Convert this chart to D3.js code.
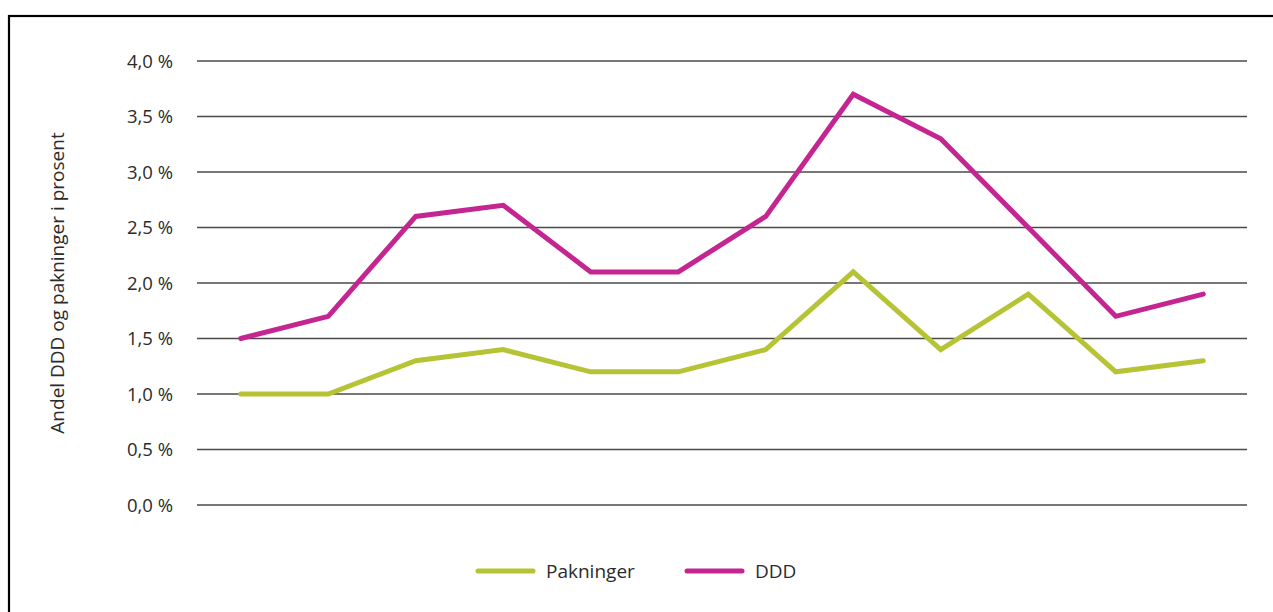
<!DOCTYPE html>
<html>
<head>
<meta charset="utf-8">
<script src="https://cdn.jsdelivr.net/npm/d3@7"></script>
<style>
  body { margin: 0; background: #fff; }
  svg text { font-family: "Open Sans", "Noto Sans", sans-serif; fill: #2b2b2b; }
</style>
</head>
<body>
<div id="chart"></div>
<script>
var categories = ["1", "2", "3", "4", "5", "6", "7", "8", "9", "10", "11", "12"];
var pakninger = [1.0, 1.0, 1.3, 1.4, 1.2, 1.2, 1.4, 2.1, 1.4, 1.9, 1.2, 1.3];
var ddd = [1.5, 1.7, 2.6, 2.7, 2.1, 2.1, 2.6, 3.7, 3.3, 2.5, 1.7, 1.9];
var yTicks = [0, 0.5, 1.0, 1.5, 2.0, 2.5, 3.0, 3.5, 4.0];
var seriesNames = ["Pakninger", "DDD"];
var seriesColors = ["#b5c334", "#c42591"];

var width = 1273, height = 612;
var margin = { top: 61, right: 26, bottom: 107, left: 197 };

var svg = d3.select("#chart").append("svg")
    .attr("width", width)
    .attr("height", height);

// frame (only left and top edges are inside the picture)
svg.append("rect")
    .attr("x", 9).attr("y", 16)
    .attr("width", width + 20).attr("height", height + 20)
    .attr("fill", "none")
    .attr("stroke", "#000")
    .attr("stroke-width", 2.2);

var x = d3.scaleBand()
    .domain(categories)
    .range([margin.left, width - margin.right]);

var y = d3.scaleLinear()
    .domain([0, 4])
    .range([height - margin.bottom, margin.top]);

// gridlines
svg.append("g")
    .selectAll("line")
    .data(yTicks)
    .enter().append("line")
    .attr("x1", margin.left)
    .attr("x2", width - margin.right)
    .attr("y1", function (d) { return y(d); })
    .attr("y2", function (d) { return y(d); })
    .attr("stroke", "#4a4a4a")
    .attr("stroke-width", 1.3);

var yAxis = d3.axisLeft(y)
    .tickValues(yTicks)
    .tickSize(0)
    .tickPadding(0)
    .tickFormat(function (d) { return d.toFixed(1).replace(".", ",") + " %"; });

var yG = svg.append("g")
    .attr("transform", "translate(173,0)")
    .call(yAxis);
yG.select(".domain").remove();
yG.selectAll("text")
    .style("font-size", "18.5px")
    .attr("dy", "0.33em");

svg.append("text")
    .attr("transform", "translate(64," + ((margin.top + height - margin.bottom) / 2) + ") rotate(-90)")
    .attr("text-anchor", "middle")
    .style("font-size", "19px")
    .text("Andel DDD og pakninger i prosent");

var line = d3.line()
    .x(function (d, i) { return x(categories[i]) + x.bandwidth() / 2; })
    .y(function (d) { return y(d); });

[pakninger, ddd].forEach(function (s, k) {
    svg.append("path")
        .datum(s)
        .attr("d", line)
        .attr("fill", "none")
        .attr("stroke", seriesColors[k])
        .attr("stroke-width", 5)
        .attr("stroke-linecap", "round")
        .attr("stroke-linejoin", "miter");
});

// legend
var legendX = [478, 687];
var legend = svg.append("g").selectAll("g")
    .data(seriesNames)
    .enter().append("g")
    .attr("transform", function (d, i) { return "translate(" + legendX[i] + ",571)"; });

legend.append("line")
    .attr("x1", 0).attr("x2", 55)
    .attr("stroke", function (d, i) { return seriesColors[i]; })
    .attr("stroke-width", 5)
    .attr("stroke-linecap", "round");

legend.append("text")
    .attr("x", 68)
    .attr("dy", "0.35em")
    .style("font-size", "19px")
    .text(function (d) { return d; });
</script>
</body>
</html>
